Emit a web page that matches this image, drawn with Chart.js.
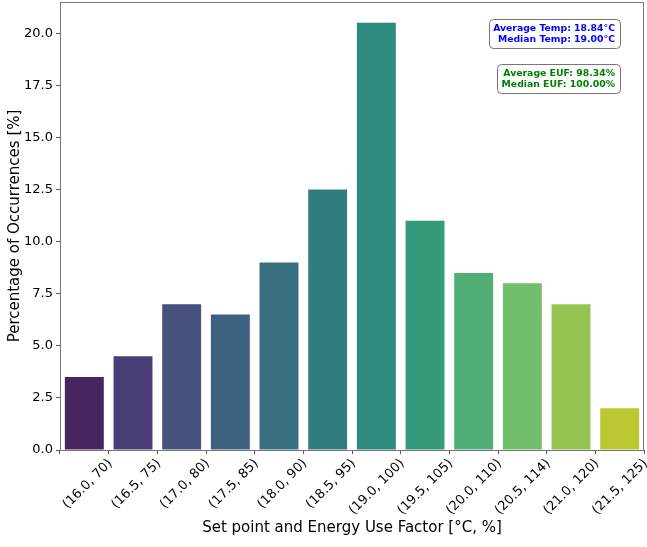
<!DOCTYPE html>
<html>
<head>
<meta charset="utf-8">
<script src="https://cdn.jsdelivr.net/npm/chart.js@4.4.0/dist/chart.umd.min.js"></script>
<style>
html,body{margin:0;padding:0;background:#fff;}
#wrap{width:647px;height:547px;}
</style>
</head>
<body>
<div id="wrap"><canvas id="c" width="647" height="547"></canvas></div>
<script>
const categories = ["(16.0, 70)","(16.5, 75)","(17.0, 80)","(17.5, 85)","(18.0, 90)","(18.5, 95)","(19.0, 100)","(19.5, 105)","(20.0, 110)","(20.5, 114)","(21.0, 120)","(21.5, 125)"];
const percentages = [3.5, 4.5, 7.0, 6.5, 9.0, 12.5, 20.5, 11.0, 8.5, 8.0, 7.0, 2.0];
const barColors = ["#472561","#4a3d76","#46517e","#3e6181","#387080","#307d7f","#2e8a7d","#359a7b","#51ae74","#72be6b","#95c452","#bbc834"];
const yTicks = [0, 2.5, 5, 7.5, 10, 12.5, 15, 17.5, 20];
const yMax = 21.5;
const tempLines = ["Average Temp: 18.84°C", "Median Temp: 19.00°C"];
const eufLines = ["Average EUF: 98.34%", "Median EUF: 100.00%"];
const xTitle = "Set point and Energy Use Factor [°C, %]";
const yTitle = "Percentage of Occurrences [%]";

const FONT = "'DejaVu Sans', sans-serif";
const frameColor = "#777";

const framePlugin = {
  id: 'frame',
  afterDatasetsDraw(chart) {
    const {ctx, chartArea: a} = chart;
    ctx.save();
    ctx.strokeStyle = frameColor;
    ctx.lineWidth = 1;
    ctx.strokeRect(a.left + 0.5, a.top + 0.5, a.right - a.left - 1, a.bottom - a.top);
    ctx.restore();
  }
};

function drawBox(ctx, lines, color, rightX, topY, boxW, boxH) {
  ctx.save();
  ctx.beginPath();
  ctx.roundRect(rightX - boxW + 0.5, topY + 0.5, boxW, boxH, 4);
  ctx.fillStyle = "#fff";
  ctx.fill();
  ctx.strokeStyle = frameColor;
  ctx.lineWidth = 1;
  ctx.stroke();
  ctx.fillStyle = color;
  ctx.font = "bold 9.3px " + FONT;
  ctx.textAlign = "right";
  ctx.textBaseline = "middle";
  lines.forEach((t, i) => ctx.fillText(t, rightX - 5, topY + 9.5 + i * 11));
  ctx.restore();
}

const annotPlugin = {
  id: 'annot',
  afterDraw(chart) {
    const {ctx, chartArea: a} = chart;
    const rx = a.right - 24;
    drawBox(ctx, tempLines, "#0000ff", rx, a.top + 17, 131, 29);
    drawBox(ctx, eufLines, "#008000", rx, a.top + 62, 123, 29);
  }
};

new Chart(document.getElementById('c'), {
  type: 'bar',
  data: {
    labels: categories,
    datasets: [{
      data: percentages,
      backgroundColor: barColors,
      borderWidth: 0,
      categoryPercentage: 1.0,
      barPercentage: 0.8
    }]
  },
  options: {
    responsive: false,
    animation: false,
    devicePixelRatio: 1,
    layout: {padding: {top: 2, right: 3, left: 0, bottom: 0}},
    plugins: {legend: {display: false}, tooltip: {enabled: false}},
    scales: {
      x: {
        grid: {display: true, drawOnChartArea: false, drawTicks: true, tickLength: 4, tickColor: "#555", color: frameColor},
        border: {display: false},
        ticks: {
          color: "#000",
          font: {family: FONT, size: 13},
          maxRotation: 45, minRotation: 45,
          labelOffset: 26,
          padding: 2,
          autoSkip: false
        },
        title: {display: true, text: xTitle, color: "#000", font: {family: FONT, size: 15}, padding: {top: 0, bottom: 10}},
        afterFit(scale) { scale.height = 97; scale.paddingLeft = 0; scale.paddingRight = 0; }
      },
      y: {
        min: 0, max: yMax,
        grid: {display: true, drawOnChartArea: false, drawTicks: true, tickLength: 4, tickColor: "#555", color: frameColor},
        border: {display: false},
        afterBuildTicks(scale) { scale.ticks = yTicks.map(v => ({value: v})); },
        ticks: {
          color: "#000",
          font: {family: FONT, size: 13},
          padding: 3,
          callback: v => Number(v).toFixed(1)
        },
        title: {display: true, text: yTitle, color: "#000", font: {family: FONT, size: 15}, padding: {top: 6, bottom: 4}},
        afterFit(scale) { scale.width = 60; scale.paddingTop = 0; scale.paddingBottom = 0; }
      }
    }
  },
  plugins: [framePlugin, annotPlugin]
});
</script>
</body>
</html>
